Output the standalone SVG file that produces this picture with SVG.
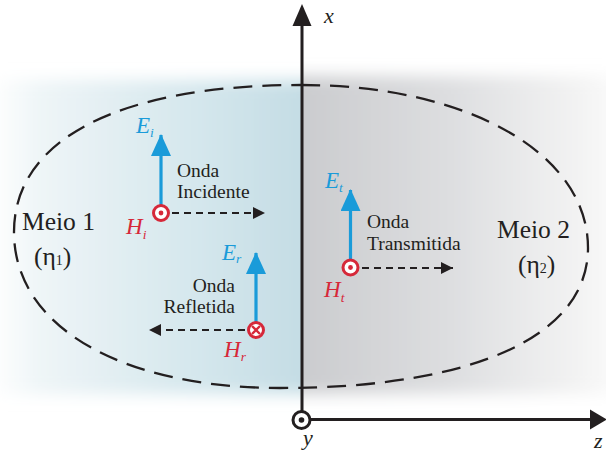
<svg xmlns="http://www.w3.org/2000/svg" width="606" height="457" viewBox="0 0 606 457">
<style>
text{font-family:'Liberation Serif','DejaVu Serif',serif}
.t{fill:#231f20}
.lab{font-size:19.5px}
.meio{font-size:25.5px}
.ax{font-style:italic;font-size:22px;fill:#231f20}
.eb{font-style:italic;font-size:23px;fill:#1a9bd9}
.hr{font-style:italic;font-size:23px;fill:#d62839}
.sub{font-size:13.5px}
.gs{font-size:14px}
.estem{stroke:#1a9bd9;stroke-width:3.2;fill:none}
.dash{stroke:#231f20;stroke-width:2;stroke-dasharray:7 5;fill:none}
.hc{fill:#ffffff;stroke:#d62839;stroke-width:3}
.hd{fill:#d62839}
.axis{stroke:#231f20;stroke-width:3;fill:none}
</style>
<defs>
<linearGradient id="gb" x1="0" y1="0" x2="1" y2="0">
<stop offset="0" stop-color="#ffffff"/>
<stop offset="0.15" stop-color="#eef5f7"/>
<stop offset="0.6" stop-color="#d5e7ed"/>
<stop offset="1" stop-color="#c0dae2"/>
</linearGradient>
<linearGradient id="gg" x1="0" y1="0" x2="1" y2="0">
<stop offset="0" stop-color="#c8c9cc"/>
<stop offset="0.5" stop-color="#dddee0"/>
<stop offset="0.9" stop-color="#f4f4f4"/>
<stop offset="1" stop-color="#fbfbfb"/>
</linearGradient>
<filter id="bl" x="-20%" y="-20%" width="140%" height="140%"><feGaussianBlur stdDeviation="8"/></filter>
<clipPath id="cl"><rect x="0" y="0" width="302" height="457"/></clipPath>
<clipPath id="cr"><rect x="302" y="0" width="304" height="457"/></clipPath>
<marker id="ah" viewBox="0 0 12 12" markerWidth="12" markerHeight="12" refX="12" refY="6" orient="auto" markerUnits="userSpaceOnUse"><path d="M0,0 L12,6 L0,12 Z" fill="#231f20"/></marker>
<marker id="eh" viewBox="0 0 22 20" markerWidth="22" markerHeight="20" refX="21" refY="10" orient="auto" markerUnits="userSpaceOnUse"><path d="M0,0 L22,10 L0,20 Z" fill="#1a9bd9"/></marker>
</defs>

<g id="background">
<g clip-path="url(#cl)"><rect x="-10" y="80" width="340" height="314" fill="url(#gb)" filter="url(#bl)"/></g>
<g clip-path="url(#cr)"><rect x="280" y="76" width="340" height="318" fill="url(#gg)" filter="url(#bl)"/></g>
</g>

<g id="boundary">
<path d="M301,85 C467,85 588,153 588,248 C588,336 474,388 280,388 C120,388 14,326 14,232 C14,139 120,85 301,85 Z" fill="none" stroke="#231f20" stroke-width="2.3" stroke-dasharray="19 10"/>
</g>

<g id="axes">
<line class="axis" x1="302" y1="24" x2="302" y2="411"/>
<polygon points="292.5,26 302,4 311.5,26" fill="#231f20"/>
<line class="axis" x1="310" y1="419.5" x2="592" y2="419.5"/>
<polygon points="590,409.5 607,419.5 590,429.5" fill="#231f20"/>
<circle cx="301.5" cy="420" r="8.5" fill="#ffffff" stroke="#231f20" stroke-width="3"/>
<circle cx="301.5" cy="420" r="2.8" fill="#231f20"/>
<text class="ax" x="324" y="23">x</text>
<text class="ax" x="303" y="445">y</text>
<text class="ax" x="594" y="448">z</text>
</g>

<g id="medium1">
<text class="t meio" x="22" y="230">Meio 1</text>
<text class="t meio" x="34" y="265">(η<tspan class="gs">1</tspan>)</text>
</g>
<g id="medium2">
<text class="t meio" x="497" y="238">Meio 2</text>
<text class="t meio" x="518" y="273">(η<tspan class="gs">2</tspan>)</text>
</g>

<g id="connectors">
<line class="estem" x1="161" y1="205" x2="161" y2="135" marker-end="url(#eh)"/>
<line class="dash" x1="172" y1="213" x2="265" y2="213" marker-end="url(#ah)"/>
<line class="estem" x1="256" y1="322" x2="256" y2="253" marker-end="url(#eh)"/>
<line class="dash" x1="245" y1="330" x2="149" y2="330" marker-end="url(#ah)"/>
<line class="estem" x1="350.5" y1="259" x2="350.5" y2="190" marker-end="url(#eh)"/>
<line class="dash" x1="362" y1="268" x2="453" y2="268" marker-end="url(#ah)"/>
</g>

<g id="incident">
<circle class="hc" cx="161" cy="213" r="7.5"/>
<circle class="hd" cx="161" cy="213" r="2.4"/>
<text class="eb" x="136" y="133">E<tspan class="sub" dy="4">i</tspan></text>
<text class="hr" x="126" y="234">H<tspan class="sub" dy="5">i</tspan></text>
<text class="t lab" x="177" y="177">Onda</text>
<text class="t lab" x="177" y="198">Incidente</text>
</g>

<g id="reflected">
<circle class="hc" cx="256" cy="330" r="7.5"/>
<path d="M252,326 L260,334 M260,326 L252,334" stroke="#d62839" stroke-width="2.4"/>
<text class="eb" x="222" y="260">E<tspan class="sub" dy="3">r</tspan></text>
<text class="hr" x="224" y="357">H<tspan class="sub" dy="4">r</tspan></text>
<text class="t lab" x="235" y="292" text-anchor="end">Onda</text>
<text class="t lab" x="235" y="313" text-anchor="end">Refletida</text>
</g>

<g id="transmitted">
<circle class="hc" cx="350.5" cy="267.5" r="7.5"/>
<circle class="hd" cx="350.5" cy="267.5" r="2.4"/>
<text class="eb" x="325" y="188">E<tspan class="sub" dy="4">t</tspan></text>
<text class="hr" x="324" y="297">H<tspan class="sub" dy="5">t</tspan></text>
<text class="t lab" x="367" y="228">Onda</text>
<text class="t lab" x="367" y="250">Transmitida</text>
</g>
</svg>
